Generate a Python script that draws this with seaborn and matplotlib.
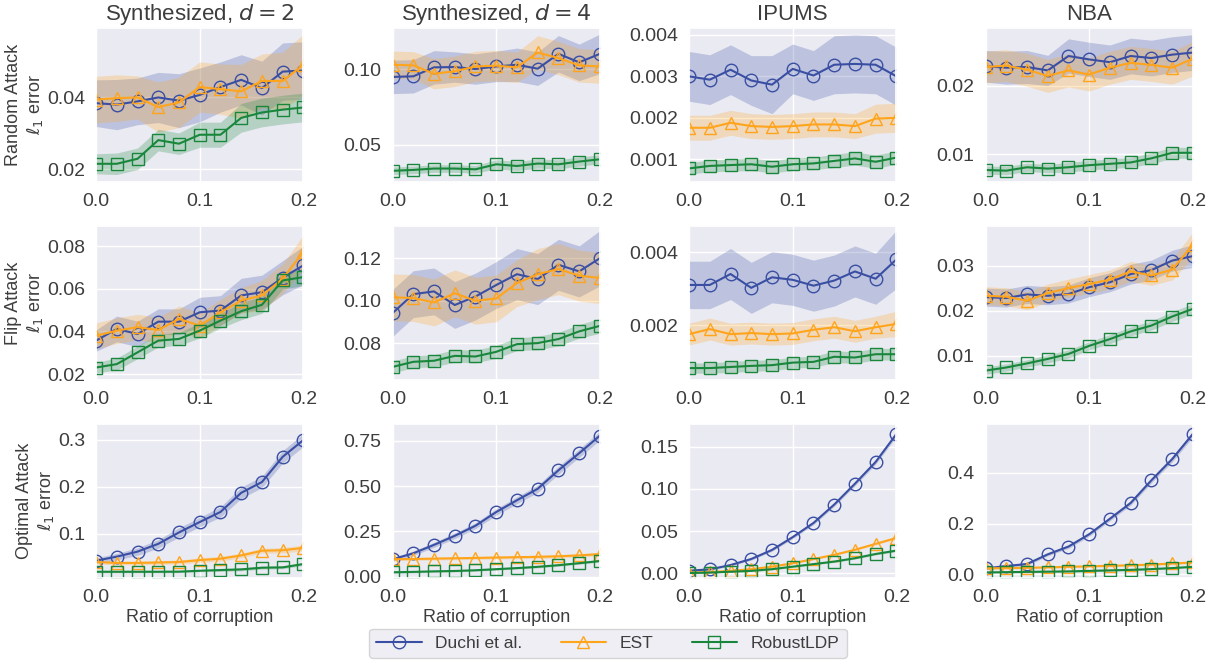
import numpy as np
import pandas as pd
import seaborn as sns
import matplotlib.pyplot as plt

# corruption ratios
ratio = [0.0, 0.02, 0.04, 0.06, 0.08, 0.10, 0.12, 0.14, 0.16, 0.18, 0.20]

methods = ["Duchi et al.", "EST", "RobustLDP"]
col_titles = ["Synthesized, $d=2$", "Synthesized, $d=4$", "IPUMS", "NBA"]
row_labels = ["Random Attack\n$\\ell_1$ error", "Flip Attack\n$\\ell_1$ error",
              "Optimal Attack\n$\\ell_1$ error"]

# ---- Random attack: means / band half-widths
rand_d2_duchi = [0.0384, 0.0380, 0.0389, 0.0400, 0.0391, 0.0407, 0.0429, 0.0449, 0.0426, 0.0472, 0.0475]
rand_d2_est = [0.0394, 0.0398, 0.0400, 0.0373, 0.0386, 0.0429, 0.0423, 0.0417, 0.0446, 0.0446, 0.0491]
rand_d2_robust = [0.0215, 0.0215, 0.0229, 0.0281, 0.0271, 0.0296, 0.0296, 0.0343, 0.0358, 0.0366, 0.0372]
rand_d2_duchi_bw = [0.0065, 0.0070, 0.0065, 0.0070, 0.0075, 0.0075, 0.0070, 0.0070, 0.0075, 0.0080, 0.0080]
rand_d2_est_bw = [0.0065, 0.0065, 0.0060, 0.0070, 0.0070, 0.0070, 0.0070, 0.0075, 0.0075, 0.0080, 0.0085]
rand_d2_robust_bw = [0.0028, 0.0030, 0.0030, 0.0030, 0.0030, 0.0035, 0.0035, 0.0040, 0.0040, 0.0040, 0.0040]

rand_d4_duchi = [0.0948, 0.0952, 0.1011, 0.1013, 0.1000, 0.1017, 0.1028, 0.1002, 0.1100, 0.1044, 0.1100]
rand_d4_est = [0.1028, 0.1024, 0.0969, 0.0985, 0.1017, 0.1022, 0.1011, 0.1109, 0.1072, 0.1024, 0.1017]
rand_d4_robust = [0.0330, 0.0336, 0.0345, 0.0345, 0.0340, 0.0373, 0.0362, 0.0378, 0.0373, 0.0391, 0.0406]
rand_d4_duchi_bw = [0.011, 0.011, 0.011, 0.010, 0.010, 0.010, 0.011, 0.011, 0.012, 0.012, 0.013]
rand_d4_est_bw = [0.009, 0.009, 0.010, 0.010, 0.010, 0.010, 0.010, 0.011, 0.011, 0.011, 0.011]
rand_d4_robust_bw = [0.0025, 0.0025, 0.0025, 0.0025, 0.0025, 0.0030, 0.0030, 0.0030, 0.0030, 0.0030, 0.0030]

rand_ipums_duchi = [0.00300, 0.00292, 0.00316, 0.00290, 0.00280, 0.00318, 0.00302, 0.00328, 0.00330, 0.00328, 0.00300]
rand_ipums_est = [0.00176, 0.00176, 0.00188, 0.00180, 0.00178, 0.00180, 0.00184, 0.00184, 0.00180, 0.00198, 0.00200]
rand_ipums_robust = [0.00078, 0.00084, 0.00086, 0.00088, 0.00082, 0.00088, 0.00090, 0.00096, 0.00102, 0.00094, 0.00104]
rand_ipums_duchi_bw = [0.00060, 0.00060, 0.00060, 0.00060, 0.00070, 0.00060, 0.00060, 0.00070, 0.00070, 0.00070, 0.00070]
rand_ipums_est_bw = [0.00030, 0.00030, 0.00030, 0.00030, 0.00030, 0.00030, 0.00030, 0.00030, 0.00030, 0.00035, 0.00035]
rand_ipums_robust_bw = [0.00014, 0.00014, 0.00015, 0.00015, 0.00015, 0.00015, 0.00015, 0.00016, 0.00016, 0.00016, 0.00016]

rand_nba_duchi = [0.0228, 0.0226, 0.0227, 0.0222, 0.0243, 0.0238, 0.0234, 0.0243, 0.0240, 0.0245, 0.0248]
rand_nba_est = [0.0227, 0.0229, 0.0223, 0.0214, 0.0222, 0.0216, 0.0226, 0.0233, 0.0230, 0.0226, 0.0239]
rand_nba_robust = [0.0077, 0.0076, 0.0081, 0.0079, 0.0081, 0.0084, 0.0086, 0.0088, 0.0094, 0.0102, 0.0102]
rand_nba_duchi_bw = [0.0023, 0.0024, 0.0024, 0.0022, 0.0025, 0.0025, 0.0025, 0.0026, 0.0026, 0.0026, 0.0026]
rand_nba_est_bw = [0.0023, 0.0023, 0.0024, 0.0024, 0.0024, 0.0024, 0.0024, 0.0024, 0.0024, 0.0024, 0.0025]
rand_nba_robust_bw = [0.0006, 0.0006, 0.0006, 0.0006, 0.0007, 0.0007, 0.0007, 0.0007, 0.0008, 0.0008, 0.0008]

# ---- Flip attack
flip_d2_duchi = [0.0357, 0.0412, 0.0388, 0.0446, 0.0446, 0.0490, 0.0498, 0.0569, 0.0584, 0.0652, 0.0710]
flip_d2_est = [0.0380, 0.0404, 0.0420, 0.0407, 0.0459, 0.0427, 0.0490, 0.0545, 0.0569, 0.0647, 0.0773]
flip_d2_robust = [0.0231, 0.0247, 0.0302, 0.0357, 0.0365, 0.0404, 0.0451, 0.0495, 0.0525, 0.0639, 0.0655]
flip_d2_duchi_bw = [0.005, 0.006, 0.006, 0.006, 0.006, 0.007, 0.007, 0.008, 0.008, 0.008, 0.009]
flip_d2_est_bw = [0.006, 0.006, 0.006, 0.006, 0.006, 0.006, 0.006, 0.006, 0.007, 0.007, 0.008]
flip_d2_robust_bw = [0.0025, 0.0028, 0.0030, 0.0030, 0.0030, 0.0035, 0.0035, 0.0040, 0.0040, 0.0040, 0.0040]

flip_d4_duchi = [0.0942, 0.1031, 0.1044, 0.0980, 0.1020, 0.1074, 0.1125, 0.1102, 0.1169, 0.1138, 0.1200]
flip_d4_est = [0.1016, 0.1013, 0.0992, 0.1035, 0.1000, 0.1011, 0.1083, 0.1125, 0.1149, 0.1118, 0.1107]
flip_d4_robust = [0.0689, 0.0713, 0.0718, 0.0741, 0.0738, 0.0760, 0.0796, 0.0801, 0.0820, 0.0856, 0.0882]
flip_d4_duchi_bw = [0.011, 0.011, 0.011, 0.011, 0.011, 0.011, 0.012, 0.012, 0.012, 0.012, 0.013]
flip_d4_est_bw = [0.011, 0.011, 0.011, 0.011, 0.011, 0.011, 0.011, 0.012, 0.012, 0.012, 0.012]
flip_d4_robust_bw = [0.0028, 0.0028, 0.0028, 0.0030, 0.0030, 0.0030, 0.0030, 0.0032, 0.0032, 0.0032, 0.0035]

flip_ipums_duchi = [0.00310, 0.00310, 0.00340, 0.00302, 0.00331, 0.00324, 0.00308, 0.00322, 0.00347, 0.00327, 0.00380]
flip_ipums_est = [0.00175, 0.00189, 0.00175, 0.00178, 0.00175, 0.00177, 0.00187, 0.00194, 0.00183, 0.00194, 0.00203]
flip_ipums_robust = [0.00082, 0.00082, 0.00085, 0.00088, 0.00090, 0.00097, 0.00099, 0.00113, 0.00111, 0.00120, 0.00120]
flip_ipums_duchi_bw = [0.00065, 0.00065, 0.00070, 0.00070, 0.00070, 0.00070, 0.00070, 0.00070, 0.00070, 0.00070, 0.00080]
flip_ipums_est_bw = [0.00030, 0.00030, 0.00030, 0.00030, 0.00030, 0.00030, 0.00030, 0.00030, 0.00030, 0.00030, 0.00035]
flip_ipums_robust_bw = [0.00014, 0.00014, 0.00015, 0.00015, 0.00015, 0.00015, 0.00015, 0.00016, 0.00016, 0.00016, 0.00016]

flip_nba_duchi = [0.0230, 0.0228, 0.0236, 0.0233, 0.0237, 0.0252, 0.0263, 0.0281, 0.0290, 0.0311, 0.0321]
flip_nba_est = [0.0233, 0.0231, 0.0222, 0.0239, 0.0250, 0.0259, 0.0269, 0.0287, 0.0278, 0.0291, 0.0346]
flip_nba_robust = [0.0067, 0.0074, 0.0083, 0.0093, 0.0104, 0.0122, 0.0137, 0.0154, 0.0167, 0.0187, 0.0204]
flip_nba_duchi_bw = [0.0020, 0.0020, 0.0020, 0.0020, 0.0020, 0.0021, 0.0021, 0.0022, 0.0022, 0.0023, 0.0025]
flip_nba_est_bw = [0.0020, 0.0020, 0.0020, 0.0020, 0.0020, 0.0021, 0.0021, 0.0022, 0.0022, 0.0023, 0.0028]
flip_nba_robust_bw = [0.0008, 0.0008, 0.0008, 0.0009, 0.0009, 0.0009, 0.0010, 0.0010, 0.0010, 0.0011, 0.0011]

# ---- Optimal attack
opt_d2_duchi = [0.0429, 0.0514, 0.0621, 0.0786, 0.1029, 0.1250, 0.1464, 0.1871, 0.2100, 0.2636, 0.2993]
opt_d2_est = [0.040, 0.038, 0.038, 0.039, 0.040, 0.044, 0.047, 0.054, 0.064, 0.065, 0.070]
opt_d2_robust = [0.0193, 0.0193, 0.0193, 0.0193, 0.0195, 0.0214, 0.0229, 0.0243, 0.0279, 0.0286, 0.0357]
opt_d2_duchi_bw = [0.006, 0.007, 0.008, 0.009, 0.010, 0.010, 0.011, 0.012, 0.012, 0.013, 0.014]
opt_d2_est_bw = [0.004, 0.004, 0.004, 0.004, 0.004, 0.005, 0.005, 0.005, 0.005, 0.006, 0.006]
opt_d2_robust_bw = [0.002, 0.002, 0.002, 0.002, 0.002, 0.002, 0.003, 0.003, 0.003, 0.003, 0.003]

opt_d4_duchi = [0.0963, 0.1296, 0.1760, 0.2260, 0.2815, 0.3570, 0.4220, 0.4850, 0.5870, 0.6810, 0.7780]
opt_d4_est = [0.097, 0.098, 0.100, 0.102, 0.104, 0.106, 0.108, 0.110, 0.113, 0.118, 0.125]
opt_d4_robust = [0.025, 0.027, 0.030, 0.032, 0.036, 0.042, 0.048, 0.055, 0.064, 0.075, 0.087]
opt_d4_duchi_bw = [0.010, 0.012, 0.014, 0.015, 0.016, 0.018, 0.019, 0.020, 0.022, 0.023, 0.025]
opt_d4_est_bw = [0.008, 0.008, 0.008, 0.008, 0.008, 0.008, 0.008, 0.009, 0.009, 0.009, 0.010]
opt_d4_robust_bw = [0.005, 0.005, 0.005, 0.005, 0.005, 0.005, 0.005, 0.006, 0.006, 0.006, 0.006]

opt_ipums_duchi = [0.0032, 0.0048, 0.0099, 0.0171, 0.0278, 0.0430, 0.0597, 0.0815, 0.1062, 0.1320, 0.1650]
opt_ipums_est = [0.0010, 0.0015, 0.0030, 0.0050, 0.0080, 0.0120, 0.0170, 0.0220, 0.0280, 0.0350, 0.0420]
opt_ipums_robust = [0.0005, 0.0010, 0.0020, 0.0030, 0.0050, 0.0080, 0.0110, 0.0140, 0.0180, 0.0230, 0.0270]
opt_ipums_duchi_bw = [0.0010, 0.0010, 0.0012, 0.0014, 0.0016, 0.0018, 0.0020, 0.0022, 0.0024, 0.0027, 0.0030]
opt_ipums_est_bw = [0.0008, 0.0008, 0.0008, 0.0009, 0.0009, 0.0010, 0.0010, 0.0011, 0.0012, 0.0013, 0.0014]
opt_ipums_robust_bw = [0.0008, 0.0008, 0.0008, 0.0008, 0.0009, 0.0009, 0.0010, 0.0010, 0.0011, 0.0011, 0.0012]

opt_nba_duchi = [0.0238, 0.0330, 0.0410, 0.0790, 0.1096, 0.1580, 0.2190, 0.2810, 0.3700, 0.4530, 0.5520]
opt_nba_est = [0.024, 0.025, 0.026, 0.028, 0.030, 0.032, 0.034, 0.036, 0.039, 0.043, 0.047]
opt_nba_robust = [0.008, 0.009, 0.010, 0.011, 0.012, 0.014, 0.016, 0.018, 0.021, 0.025, 0.030]
opt_nba_duchi_bw = [0.005, 0.005, 0.006, 0.006, 0.007, 0.008, 0.008, 0.009, 0.010, 0.011, 0.012]
opt_nba_est_bw = [0.004, 0.004, 0.004, 0.004, 0.004, 0.004, 0.004, 0.004, 0.005, 0.005, 0.005]
opt_nba_robust_bw = [0.003, 0.003, 0.003, 0.003, 0.003, 0.003, 0.003, 0.003, 0.003, 0.003, 0.003]

panels = [
    [(rand_d2_duchi, rand_d2_est, rand_d2_robust), (rand_d2_duchi_bw, rand_d2_est_bw, rand_d2_robust_bw)],
    [(rand_d4_duchi, rand_d4_est, rand_d4_robust), (rand_d4_duchi_bw, rand_d4_est_bw, rand_d4_robust_bw)],
    [(rand_ipums_duchi, rand_ipums_est, rand_ipums_robust), (rand_ipums_duchi_bw, rand_ipums_est_bw, rand_ipums_robust_bw)],
    [(rand_nba_duchi, rand_nba_est, rand_nba_robust), (rand_nba_duchi_bw, rand_nba_est_bw, rand_nba_robust_bw)],
    [(flip_d2_duchi, flip_d2_est, flip_d2_robust), (flip_d2_duchi_bw, flip_d2_est_bw, flip_d2_robust_bw)],
    [(flip_d4_duchi, flip_d4_est, flip_d4_robust), (flip_d4_duchi_bw, flip_d4_est_bw, flip_d4_robust_bw)],
    [(flip_ipums_duchi, flip_ipums_est, flip_ipums_robust), (flip_ipums_duchi_bw, flip_ipums_est_bw, flip_ipums_robust_bw)],
    [(flip_nba_duchi, flip_nba_est, flip_nba_robust), (flip_nba_duchi_bw, flip_nba_est_bw, flip_nba_robust_bw)],
    [(opt_d2_duchi, opt_d2_est, opt_d2_robust), (opt_d2_duchi_bw, opt_d2_est_bw, opt_d2_robust_bw)],
    [(opt_d4_duchi, opt_d4_est, opt_d4_robust), (opt_d4_duchi_bw, opt_d4_est_bw, opt_d4_robust_bw)],
    [(opt_ipums_duchi, opt_ipums_est, opt_ipums_robust), (opt_ipums_duchi_bw, opt_ipums_est_bw, opt_ipums_robust_bw)],
    [(opt_nba_duchi, opt_nba_est, opt_nba_robust), (opt_nba_duchi_bw, opt_nba_est_bw, opt_nba_robust_bw)],
]

# axis ranges and ticks per panel (row-major)
ylims = [(0.0164, 0.0594), (0.0256, 0.1271), (0.00045, 0.00417), (0.00594, 0.0284),
         (0.0172, 0.0895), (0.0627, 0.1352), (0.00049, 0.00472), (0.0046, 0.0388),
         (0.0057, 0.3336), (-0.0074, 0.8426), (-0.0056, 0.177), (-0.0145, 0.5914)]
yticks = [[0.02, 0.04], [0.05, 0.10], [0.001, 0.002, 0.003, 0.004], [0.01, 0.02],
          [0.02, 0.04, 0.06, 0.08], [0.08, 0.10, 0.12], [0.002, 0.004], [0.01, 0.02, 0.03],
          [0.1, 0.2, 0.3], [0.0, 0.25, 0.5, 0.75], [0.0, 0.05, 0.10, 0.15], [0.0, 0.2, 0.4]]

colors = ["#3a4fa3", "#ffa41b", "#19873b"]
markers = ["o", "^", "s"]

sns.set_theme(style="darkgrid")
plt.rcParams["font.family"] = ["Liberation Sans", "DejaVu Sans"]
text_grey = "#3d3d3d"
plt.rcParams.update({"text.color": text_grey, "axes.labelcolor": text_grey,
                     "xtick.color": text_grey, "ytick.color": text_grey})

fig, axes = plt.subplots(3, 4, figsize=(12.16, 6.63), dpi=100)
fig.subplots_adjust(left=0.079, right=0.981, top=0.958, bottom=0.128,
                    wspace=0.43, hspace=0.284)

for i, ax in enumerate(axes.flat):
    means, bws = panels[i]
    rows = []
    for m, vals in zip(methods, means):
        for x, v in zip(ratio, vals):
            rows.append({"ratio": x, "error": v, "method": m})
    df = pd.DataFrame(rows)
    for m, vals, bw, c in zip(methods, means, bws, colors):
        lo = np.array(vals) - np.array(bw)
        hi = np.array(vals) + np.array(bw)
        ax.fill_between(ratio, lo, hi, color=c, alpha=0.25, linewidth=0)
    sns.lineplot(data=df, x="ratio", y="error", hue="method", style="method",
                 palette=colors, markers=markers, dashes=False, ax=ax,
                 linewidth=1.5, markersize=9, markerfacecolor="none",
                 markeredgewidth=1.0, legend=(i == 0))
    for line, c in zip(ax.get_lines(), colors):
        line.set_markeredgecolor(c)
    ax.set_xlim(0, 0.2)
    ax.set_xticks([0.0, 0.1, 0.2])
    ax.set_ylim(*ylims[i])
    ax.set_yticks(yticks[i])
    ax.tick_params(labelsize=14, pad=2)
    r, c = divmod(i, 4)
    ax.set_xlabel("Ratio of corruption" if r == 2 else "", fontsize=13, labelpad=2)
    ax.set_ylabel(row_labels[r] if c == 0 else "", fontsize=13, labelpad=1)
    if r == 0:
        ax.set_title(col_titles[c], fontsize=16)

handles, labels = axes[0, 0].get_legend_handles_labels()
axes[0, 0].get_legend().remove()
for h, c in zip(handles, colors):
    h.set_markerfacecolor("none")
    h.set_markeredgecolor(c)
fig.legend(handles, labels, loc="lower center", bbox_to_anchor=(0.5, -0.005),
           ncol=3, fontsize=12.5, frameon=True, handlelength=2.6, columnspacing=2.2)

fig.savefig("out.png", dpi=100)
